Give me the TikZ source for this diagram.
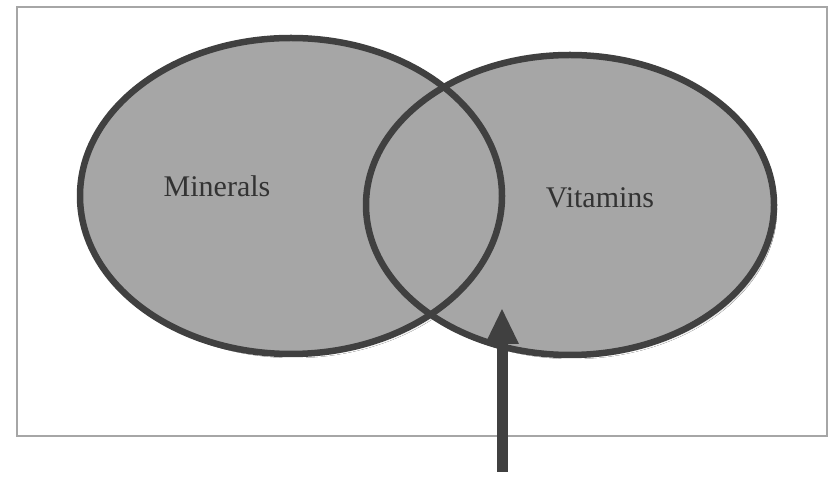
\documentclass[tikz,border=0pt]{standalone}
\usepackage{fontspec}
\setmainfont{Liberation Serif}
\usepackage{tikz}
\usetikzlibrary{arrows.meta}

\definecolor{setfill}{gray}{0.65}
\definecolor{setline}{gray}{0.25}
\definecolor{shade}{gray}{0.80}

\begin{document}
\begin{tikzpicture}[
  x=1pt, y=1pt,
  every node/.style={font=\fontsize{30}{33}\selectfont, text=black!80},
  frame/.style={draw=gray!70, line width=1.2pt},
  setarea/.style={fill=setfill},
  setedge/.style={draw=setline, line width=6.5pt},
  pointer/.style={draw=setline, line width=11pt, -{Triangle[length=36pt,width=31pt]}}
]
  \useasboundingbox (0,0) rectangle (837,476);
  \draw[frame] (17,40) rectangle (827,469);

  % sets
  \fill[shade] (294,276) ellipse [x radius=211, y radius=158];
  \fill[shade] (573,267) ellipse [x radius=204, y radius=150];
  \fill[setarea] (291,280) ellipse [x radius=211, y radius=158];
  \fill[setarea] (570,271) ellipse [x radius=204, y radius=150];
  \draw[setedge] (291,280) ellipse [x radius=211, y radius=158];
  \draw[setedge] (570,271) ellipse [x radius=204, y radius=150];

  \node (min) at (217,290) {Minerals};
  \node (vit) at (600,278) {Vitamins};

  \coordinate (tail) at (502,4);
  \coordinate (tip) at (502,168);
  \draw[pointer] (tail) -- (tip);
\end{tikzpicture}
\end{document}
